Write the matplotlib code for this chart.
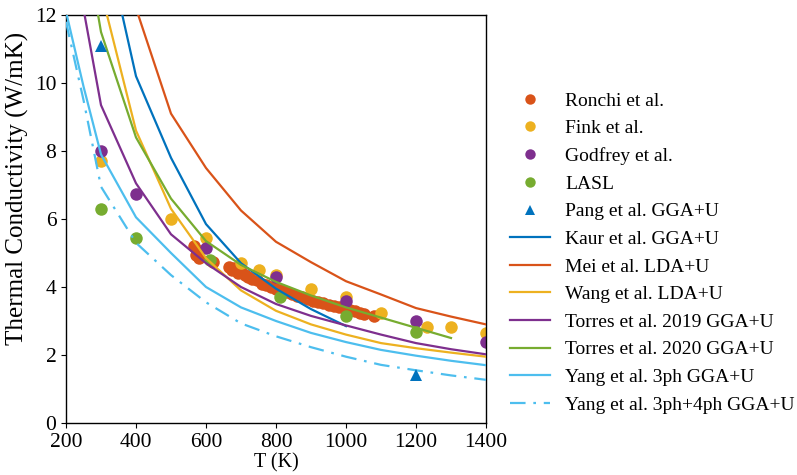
import matplotlib
matplotlib.use("Agg")
import matplotlib.pyplot as plt
from matplotlib.lines import Line2D

plt.rcParams['font.family'] = ['Liberation Serif', 'DejaVu Serif']
plt.rcParams['font.size'] = 14

# ---- experimental data ----
ronchi_T = [565, 570, 575, 580, 620, 665, 675, 680, 690, 700, 710, 720, 730, 745, 760, 770,
            785, 800, 815, 830, 845, 860, 875, 890, 905, 920, 935, 950, 965, 980, 995, 1010,
            1025, 1040, 1050, 1080]
ronchi_k = [5.2, 4.95, 5.1, 4.85, 4.75, 4.6, 4.5, 4.55, 4.4, 4.45, 4.35, 4.3, 4.25, 4.2, 4.1, 4.05,
            4.0, 3.95, 3.9, 3.85, 3.8, 3.75, 3.7, 3.65, 3.6, 3.55, 3.52, 3.48, 3.45, 3.42, 3.38, 3.32,
            3.3, 3.25, 3.22, 3.15]

fink_T = [300, 500, 600, 700, 750, 800, 900, 1000, 1100, 1230, 1300, 1400]
fink_k = [7.7, 6.0, 5.45, 4.72, 4.5, 4.35, 3.95, 3.7, 3.25, 2.82, 2.82, 2.65]

godfrey_T = [300, 400, 600, 800, 1000, 1200, 1400]
godfrey_k = [8.0, 6.75, 5.15, 4.3, 3.6, 3.0, 2.38]

lasl_T = [300, 400, 610, 810, 1000, 1200]
lasl_k = [6.3, 5.45, 4.8, 3.7, 3.15, 2.68]

pang_T = [300, 1200]
pang_k = [11.1, 1.41]

# ---- calculations ----
kaur_T = [300, 400, 500, 600, 700, 800, 900, 1000]
kaur_k = [14.8, 10.2, 7.8, 5.85, 4.7, 3.95, 3.35, 2.85]

mei_T = [400, 500, 600, 700, 800, 900, 1000, 1100, 1200, 1300, 1400]
mei_k = [12.2, 9.1, 7.5, 6.25, 5.33, 4.73, 4.17, 3.78, 3.38, 3.13, 2.9]

wang_T = [300, 400, 500, 600, 700, 800, 900, 1000, 1100, 1200, 1300, 1400]
wang_k = [12.7, 8.6, 6.3, 4.85, 3.9, 3.3, 2.9, 2.6, 2.35, 2.2, 2.07, 1.95]

torres19_T = [200, 300, 400, 500, 600, 700, 800, 900, 1000, 1100, 1200, 1300, 1400]
torres19_k = [15.0, 9.35, 7.05, 5.55, 4.7, 4.0, 3.5, 3.15, 2.87, 2.6, 2.35, 2.17, 2.02]

torres20_T = [250, 300, 400, 500, 600, 700, 800, 900, 1000, 1100, 1200, 1300]
torres20_k = [14.5, 11.5, 8.4, 6.6, 5.35, 4.65, 4.15, 3.75, 3.4, 3.1, 2.8, 2.5]

yang3_T = [200, 250, 300, 400, 500, 600, 700, 800, 900, 1000, 1100, 1200, 1300, 1400]
yang3_k = [12.1, 9.9, 7.9, 6.05, 5.0, 4.0, 3.4, 3.0, 2.65, 2.38, 2.15, 1.98, 1.83, 1.7]

yang4_T = [200, 250, 300, 400, 500, 600, 700, 800, 900, 1000, 1100, 1200, 1300, 1400]
yang4_k = [11.8, 9.5, 6.95, 5.3, 4.35, 3.55, 2.93, 2.55, 2.23, 1.95, 1.71, 1.55, 1.4, 1.27]

BLUE = '#0072BD'
ORANGE = '#D95319'
YELLOW = '#EDB120'
PURPLE = '#7E2F8E'
GREEN = '#77AC30'
LBLUE = '#4DBEEE'

fig = plt.figure(figsize=(7.97, 4.75), dpi=100)
ax = fig.add_axes([66/797, 1-423/475, 420/797, 408/475])

ms = 9
lw = 1.6
dashdot = (0, (7, 3.5, 1.2, 3.5))
ax.plot(ronchi_T, ronchi_k, 'o', color=ORANGE, ms=ms, mew=0, zorder=2)
ax.plot(fink_T, fink_k, 'o', color=YELLOW, ms=ms, mew=0, zorder=2)
ax.plot(godfrey_T, godfrey_k, 'o', color=PURPLE, ms=ms, mew=0, zorder=2)
ax.plot(lasl_T, lasl_k, 'o', color=GREEN, ms=ms, mew=0, zorder=2)
ax.plot(pang_T, pang_k, '^', color=BLUE, ms=8.5, mew=0, zorder=4)

ax.plot(kaur_T, kaur_k, '-', color=BLUE, lw=lw, zorder=3)
ax.plot(mei_T, mei_k, '-', color=ORANGE, lw=lw, zorder=3)
ax.plot(wang_T, wang_k, '-', color=YELLOW, lw=lw, zorder=3)
ax.plot(torres19_T, torres19_k, '-', color=PURPLE, lw=lw, zorder=3)
ax.plot(torres20_T, torres20_k, '-', color=GREEN, lw=lw, zorder=3)
ax.plot(yang3_T, yang3_k, '-', color=LBLUE, lw=lw, zorder=3)
ax.plot(yang4_T, yang4_k, color=LBLUE, lw=lw, ls=dashdot, zorder=3)

ax.set_xlim(200, 1400)
ax.set_ylim(0, 12)
ax.set_xticks([200, 400, 600, 800, 1000, 1200, 1400])
ax.set_yticks([0, 2, 4, 6, 8, 10, 12])
ax.tick_params(labelsize=15.5)
ax.set_xlabel('T (K)', fontsize=14.5, labelpad=1)
ax.set_ylabel('Thermal Conductivity (W/mK)', fontsize=18)
ax.yaxis.set_label_coords(-0.088, 0.574)
for s in ax.spines.values():
    s.set_linewidth(1.0)

handles = [
    Line2D([], [], ls='none', marker='o', color=ORANGE, ms=7.5, mew=0),
    Line2D([], [], ls='none', marker='o', color=YELLOW, ms=7.5, mew=0),
    Line2D([], [], ls='none', marker='o', color=PURPLE, ms=7.5, mew=0),
    Line2D([], [], ls='none', marker='o', color=GREEN, ms=7.5, mew=0),
    Line2D([], [], ls='none', marker='^', color=BLUE, ms=7.5, mew=0),
    Line2D([], [], color=BLUE, lw=lw),
    Line2D([], [], color=ORANGE, lw=lw),
    Line2D([], [], color=YELLOW, lw=lw),
    Line2D([], [], color=PURPLE, lw=lw),
    Line2D([], [], color=GREEN, lw=lw),
    Line2D([], [], color=LBLUE, lw=lw),
    Line2D([], [], color=LBLUE, lw=lw, ls=dashdot),
]
labels = ['Ronchi et al.', 'Fink et al.', 'Godfrey et al.', 'LASL', 'Pang et al. GGA+U',
          'Kaur et al. GGA+U', 'Mei et al. LDA+U', 'Wang et al. LDA+U',
          'Torres et al. 2019 GGA+U', 'Torres et al. 2020 GGA+U',
          'Yang et al. 3ph GGA+U', 'Yang et al. 3ph+4ph GGA+U']
fig.legend(handles, labels, loc='upper left', bbox_to_anchor=(510/797, 1-92/475),
           frameon=False, fontsize=14, handlelength=2.06, handletextpad=0.77,
           labelspacing=0.515, borderaxespad=0, borderpad=0)

fig.savefig('out.png', dpi=100)
